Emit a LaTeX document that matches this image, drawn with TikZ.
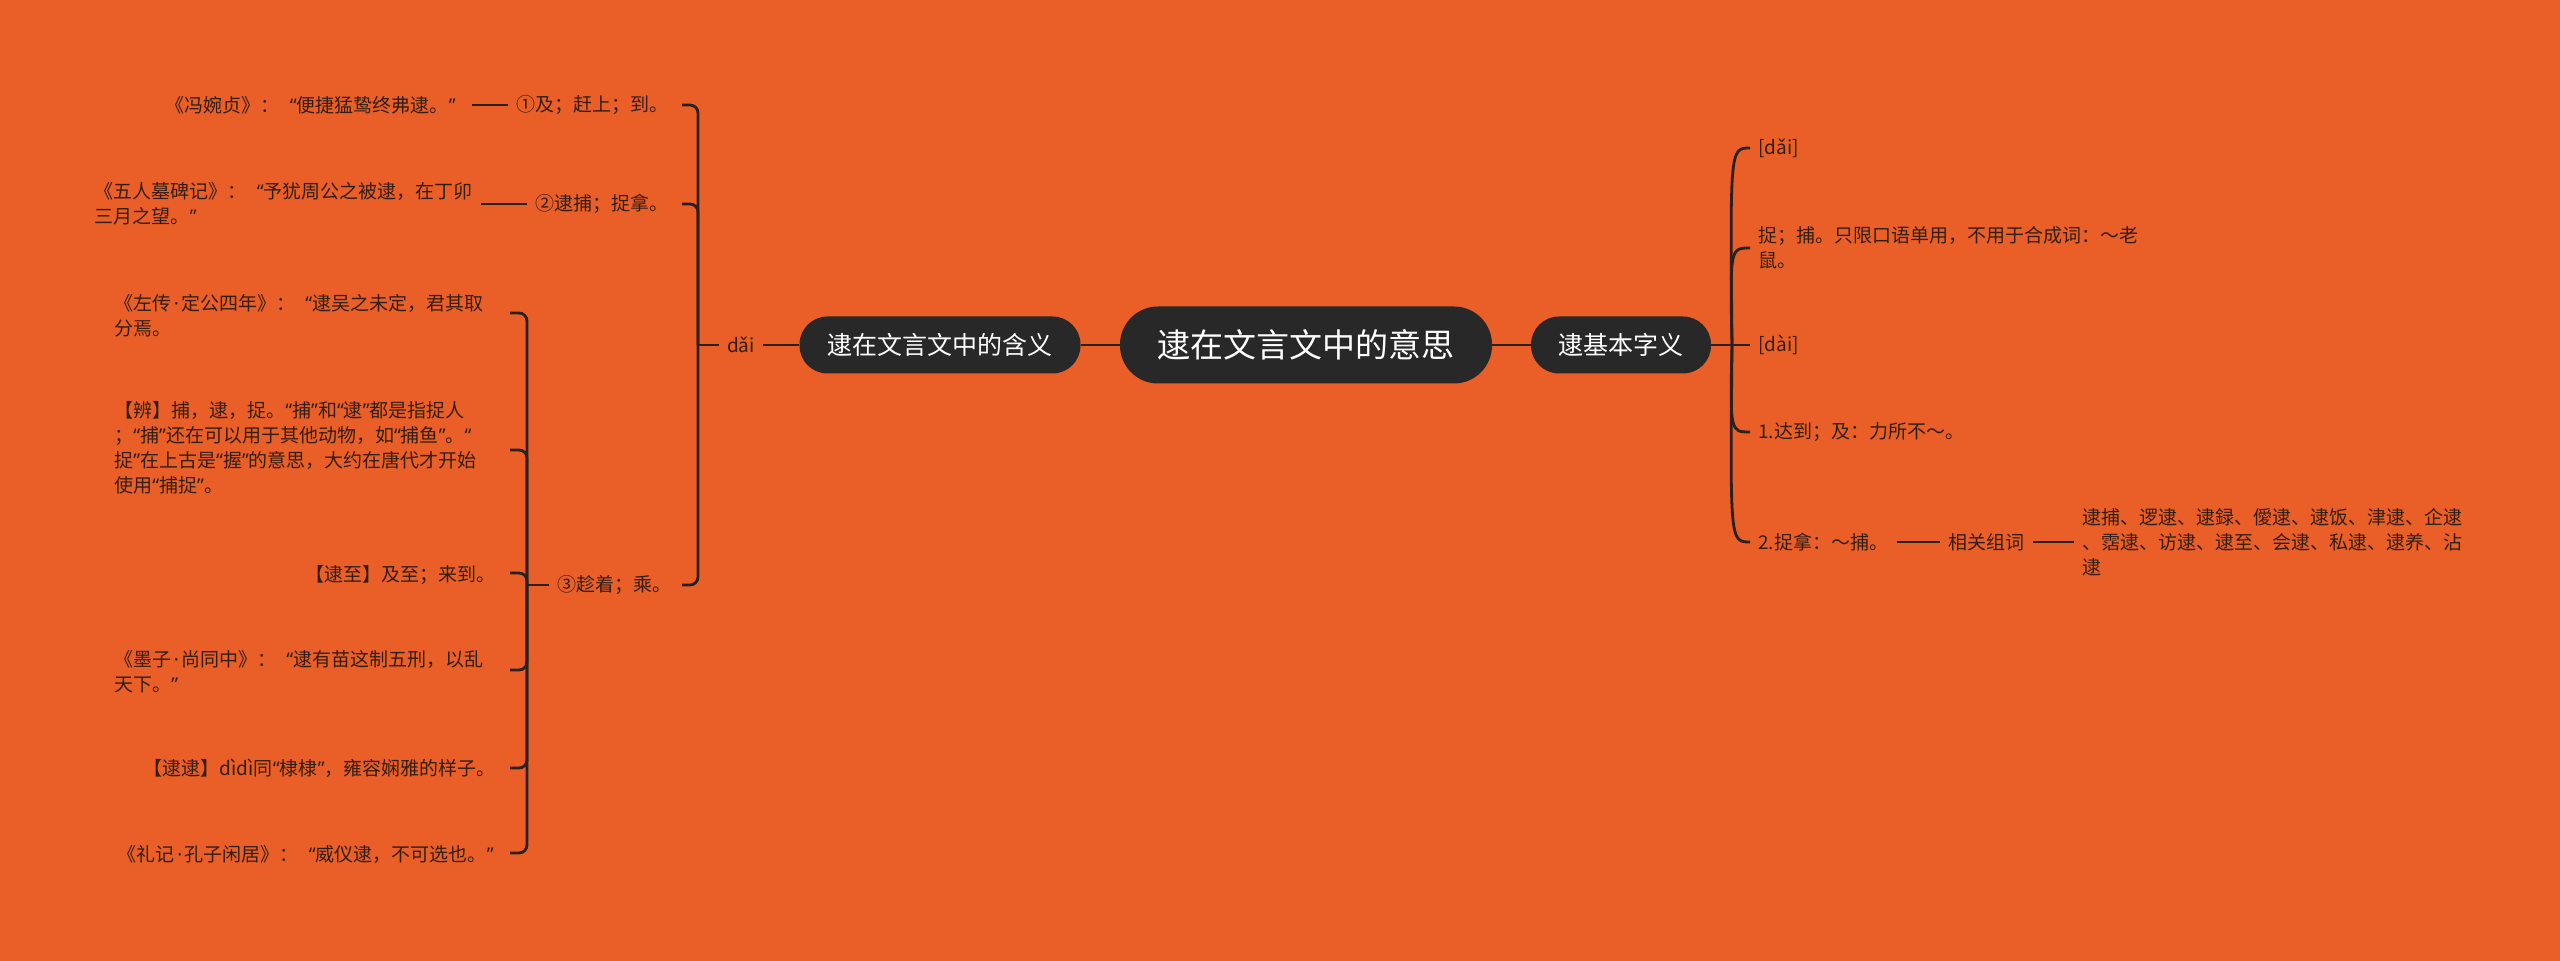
\documentclass[tikz,border=0pt]{standalone}
\usepackage{fontspec}
\setmainfont{Noto Sans CJK SC}
\newfontfamily\latf{Noto Sans}
\newcommand\qo{{\latf “}}
\newcommand\qc{{\latf ”}}
\newcommand\cqo{\kern5pt{\latf “}}
\newcommand\eqc{{\latf ”}\kern4pt}
\newcommand\md{\kern1.25pt{\latf ·}\kern1.25pt}
\usetikzlibrary{calc}
\definecolor{bg}{RGB}{234,94,39}
\definecolor{nodefill}{RGB}{40,40,40}
\definecolor{ink}{RGB}{50,30,20}
\definecolor{wirec}{RGB}{40,34,30}
\begin{document}
\begin{tikzpicture}[x=0.5pt,y=-0.5pt,
  leaf/.style={font=\fontsize{9.5pt}{12.5pt}\selectfont, text=ink, inner xsep=4pt, inner ysep=2pt, align=left},
  pill/.style={fill=nodefill, text=white, inner sep=0pt},
  wire/.style={draw=wirec, line width=1.4pt},
  brk/.style={wire, rounded corners=4pt}
]
\useasboundingbox (0,0) rectangle (2560,961);
\fill[bg] (0,0) rectangle (2560,961);

% main nodes
\node[pill, rounded corners=19pt, minimum width=186pt, minimum height=38.5pt,
      font=\fontsize{16.5pt}{20pt}\selectfont] (C) at (1306,345) {逮在文言文中的意思};
\node[pill, rounded corners=14pt, minimum width=140.5pt, minimum height=28.5pt,
      font=\fontsize{12.5pt}{15pt}\selectfont] (L) at (940,345) {逮在文言文中的含义};
\node[pill, rounded corners=14pt, minimum width=90pt, minimum height=28.5pt,
      font=\fontsize{12.5pt}{15pt}\selectfont] (R) at (1621,345) {逮基本字义};

\draw[wire] (C.west) -- (L.west -| L.east);
\draw[wire] (C.east) -- (R.west);

% left: dai
\node[leaf] (dai) at (741,345) {dǎi};
\draw[wire] (L.west) -- (dai.east);
\coordinate (jL) at (698,345);
\draw[wire] (dai.west) -- (jL);

\node[leaf, anchor=west] (n1) at (508,105) {①及；赶上；到。};
\node[leaf, anchor=west] (n2) at (527,204) {②逮捕；捉拿。};
\node[leaf, anchor=west] (n3) at (549,585) {③趁着；乘。};
\coordinate (t1) at (682,105);
\coordinate (t2) at (682,204);
\coordinate (t3) at (682,585);
\draw[brk] (jL) |- (t1);
\draw[brk] (jL) |- (t2);
\draw[brk] (jL) |- (t3);

\node[leaf, anchor=east] (n1s) at (472,105) {《冯婉贞》：\cqo 便捷猛鸷终弗逮。\eqc};
\node[leaf, anchor=east] (n2s) at (481,204) {《五人墓碑记》：\cqo 予犹周公之被逮，在丁卯\\三月之望。\qc};
\draw[wire] (n1s.east) -- (n1.west);
\draw[wire] (n2s.east |- n2.west) -- (n2.west);

% sub bracket of 3
\coordinate (jS) at (527,585);
\draw[wire] (n3.west) -- (jS);
\node[leaf, anchor=west] (sa) at (106,316) {《左传\md 定公四年》：\cqo 逮吴之未定，君其取\\分焉。};
\node[leaf, anchor=west] (sb) at (106,448) {【辨】捕，逮，捉。\qo 捕\qc 和\qo 逮\qc 都是指捉人\\；\qo 捕\qc 还在可以用于其他动物，如\qo 捕鱼\qc 。\qo\\捉\qc 在上古是\qo 握\qc 的意思，大约在唐代才开始\\使用\qo 捕捉\qc 。};
\node[leaf, anchor=east] (sc) at (504,575) {【逮至】及至；来到。};
\node[leaf, anchor=west] (sd) at (106,672) {《墨子\md 尚同中》：\cqo 逮有苗这制五刑，以乱\\天下。\qc};
\node[leaf, anchor=east] (se) at (504,768) {【逮逮】dìdì同\qo 棣棣\qc ，雍容娴雅的样子。};
\node[leaf, anchor=east] (sf) at (510,854) {《礼记\md 孔子闲居》：\cqo 威仪逮，不可选也。\eqc};
\coordinate (ta) at (510,313);
\coordinate (tb) at (510,450);
\coordinate (tc) at (510,573);
\coordinate (td) at (510,670);
\coordinate (te) at (510,768);
\coordinate (tf) at (510,853);
\draw[brk] (jS) |- (ta);
\draw[brk] (jS) |- (tb);
\draw[brk] (jS) |- (tc);
\draw[brk] (jS) |- (td);
\draw[brk] (jS) |- (te);
\draw[brk] (jS) |- (tf);

% right side
\coordinate (jR) at (1732,345);
\node[leaf, anchor=west] (r1) at (1750,148) {[dǎi]};
\node[leaf, anchor=west] (r2) at (1750,248) {捉；捕。只限口语单用，不用于合成词：～老\\鼠。};
\node[leaf, anchor=west] (r3) at (1750,345) {[dài]};
\node[leaf, anchor=west] (r4) at (1750,432) {1.达到；及：力所不～。};
\node[leaf, anchor=west] (r5) at (1750,542) {2.捉拿：～捕。};
\draw[wire] (R.east) -- (r3.west);
\draw[wire] (jR) .. controls (1730,148) .. (r1.west);
\draw[wire] (jR) .. controls (1730,248) .. (r2.west);
\draw[wire] (jR) .. controls (1730,432) .. (r4.west);
\draw[wire] (jR) .. controls (1730,542) .. (r5.west);

\node[leaf, anchor=west] (rel) at (1940,542) {相关组词};
\node[leaf, anchor=west] (words) at (2074,542) {逮捕、逻逮、逮録、僾逮、逮饭、津逮、企逮\\、霑逮、访逮、逮至、会逮、私逮、逮养、沾\\逮};
\draw[wire] (r5.east) -- (rel.west);
\draw[wire] (rel.east) -- (words.west);
\end{tikzpicture}
\end{document}
